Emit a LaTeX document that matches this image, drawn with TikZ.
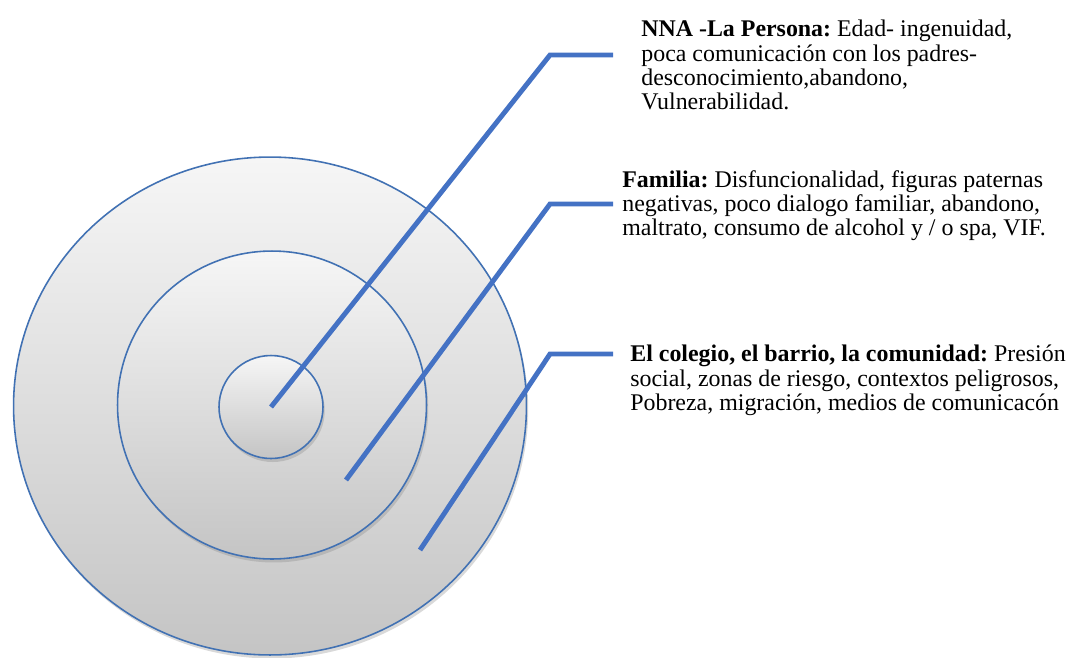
\documentclass[tikz,border=0pt]{standalone}
\usepackage{fontspec}
\setmainfont{Liberation Serif}
\usetikzlibrary{shapes.geometric,shadows}
\definecolor{ringblue}{HTML}{4171B3}
\definecolor{leaderblue}{HTML}{4472C4}

\begin{document}
\frenchspacing
\begin{tikzpicture}[x=0.02cm, y=-0.02cm]
        % estilos
        \tikzstyle{ring} = [ellipse, draw=ringblue, line width=0.9pt, top color=gray!7, bottom color=gray!46, drop shadow={opacity=0.3, shadow xshift=1pt, shadow yshift=-2pt}]
        \tikzstyle{leader} = [line width=2.8pt, draw=leaderblue]
        \tikzstyle{txt} = [anchor=north west, align=left, inner sep=0pt, font=\fontsize{13.6}{13.7}\selectfont]

        \useasboundingbox (0,0) rectangle (1072,657);

        % circulos
        \node (community) [ring, minimum width=10.26cm, minimum height=9.96cm] at (270,406) {};
        \node (family) [ring, minimum width=6.18cm, minimum height=6.16cm] at (272,405) {};
        \node (person) [ring, minimum width=2.08cm, minimum height=2.06cm] at (271,407) {};

        % puntos de las lineas
        \coordinate (familyPt) at (346,480);
        \coordinate (communityPt) at (420,550);
        \coordinate (personKnee) at (550,55);
        \coordinate (personEnd) at (613,55);
        \coordinate (familyKnee) at (550,204);
        \coordinate (familyEnd) at (613,204);
        \coordinate (communityKnee) at (550,354);
        \coordinate (communityEnd) at (613,354);

        % textos
        \node (personTxt) [txt] at (641,20) {\textbf{NNA -La Persona:} Edad- ingenuidad,\\ poca comunicación con los padres-\\ desconocimiento,abandono,\\ Vulnerabilidad.};
        \node (familyTxt) [txt] at (622,170) {\textbf{Familia:} Disfuncionalidad, figuras paternas\\ negativas, poco dialogo familiar, abandono,\\ maltrato, consumo de alcohol y / o spa, VIF.};
        \node (communityTxt) [txt] at (630,345) {\textbf{El colegio, el barrio, la comunidad:} Presión\\ social, zonas de riesgo, contextos peligrosos,\\ Pobreza, migración, medios de comunicacón};

        % lineas
        \draw [leader] (person.center) -- (personKnee) -- (personEnd);
        \draw [leader] (familyPt) -- (familyKnee) -- (familyEnd);
        \draw [leader] (communityPt) -- (communityKnee) -- (communityEnd);
\end{tikzpicture}
\end{document}
